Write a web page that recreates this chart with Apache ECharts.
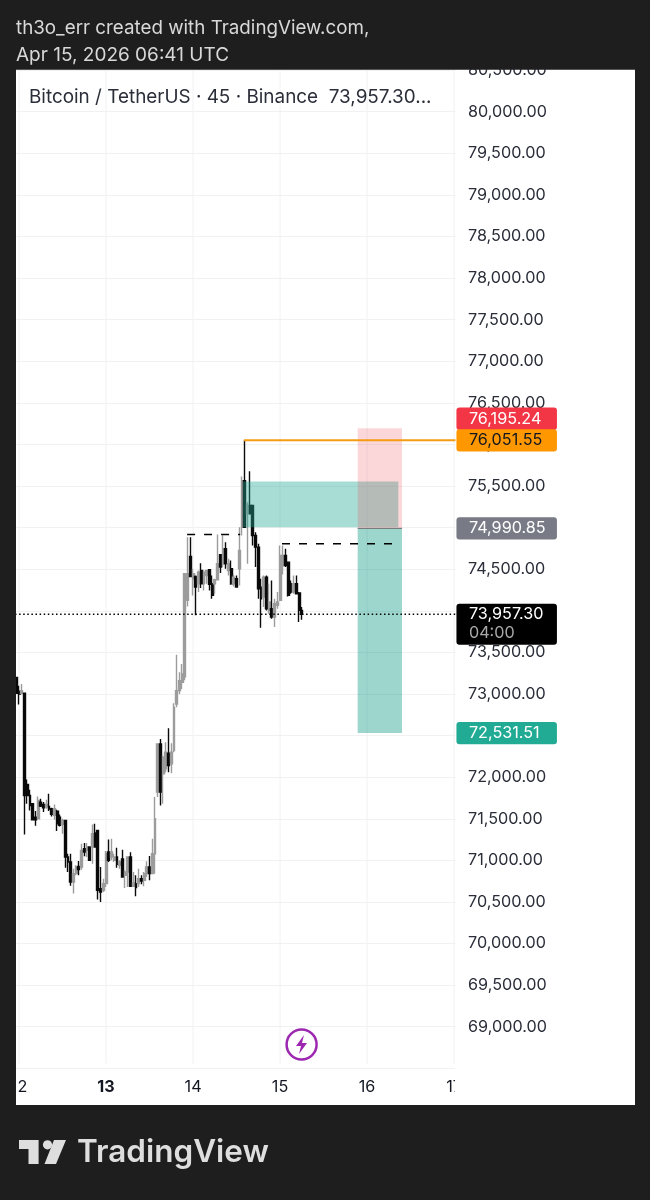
<!DOCTYPE html>
<html><head><meta charset="utf-8">
<style>html,body{margin:0;padding:0;background:#1e1e1e}#c{width:650px;height:1200px}</style>
<script src="https://cdn.jsdelivr.net/npm/echarts@6/dist/echarts.min.js"></script>
</head><body><div id="c"></div>
<script>
const opens=[73200,73032,73008,73008,71912,71780,71680,71520,71500,71700,71672,71640,71648,71620,71540,71592,71520,71432,71480,71040,70980,70740,70840,70928,70920,71140,71120,71160,71160,71328,71360,70660,70640,70720,71100,71040,71000,71040,70940,71016,70820,70860,71040,70688,70720,70720,70780,70760,70840,70920,70840,71080,71820,72400,72040,72100,72288,72160,72320,72880,73040,73140,73205,74125,74653,74385,74413,74325,74485,74325,74425,74493,74325,74325,74373,74673,74565,74745,74485,74505,74325,74385,74505,75005,75565,75165,75265,75265,74905,74765,74285,74165,74405,74005,74025,73925,74065,74125,74545,74665,74585,74325,74225,74325,74213,74005];
const closes=[73008,73000,73040,71780,71780,71660,71488,71488,71720,71652,71632,71672,71616,71552,71620,71440,71420,71480,71040,70980,70740,70840,70920,70888,71120,71100,71160,71000,71320,71160,70640,70620,70720,71080,71000,71100,71040,70952,70980,70800,70860,71040,70688,70728,70672,70780,70752,70840,70920,70840,71080,71500,72400,71820,72240,72300,72140,72300,72840,73040,73160,73240,74445,74445,74413,74445,74285,74465,74325,74465,74485,74317,74185,74373,74565,74525,74745,74565,74565,74325,74405,74285,74725,75565,75005,75265,75165,74905,74765,74265,74145,74405,74025,74105,73925,74085,74105,74665,74665,74545,74185,74225,74325,74205,74005,73957.3];
const lows=[73000,72872,73000,71312,71680,71600,71480,71416,71488,71640,71580,71620,71592,71528,71488,71352,71408,71320,70912,70860,70696,70600,70820,70820,70888,71048,71040,70992,70960,71160,70528,70500,70620,70680,70980,71000,70980,70912,70900,70792,70668,70680,70680,70680,70568,70680,70712,70688,70800,70760,70832,70840,71760,71660,71680,72060,72060,72048,72300,72840,73000,73060,73165,74053,74405,74185,73945,74225,74273,74245,74325,74245,74145,74205,74365,74453,74525,74505,74425,74313,74293,74277,74305,74905,75005,74565,75165,74785,74525,74145,73797,74045,74005,73965,73905,73805,74025,74125,74437,74525,74173,74205,74205,74205,73865,73893];
const highs=[73200,73100,73120,73008,71972,71848,71688,71592,71768,71740,71700,71728,71800,71632,71672,71608,71552,71500,71480,71080,71080,70900,70940,70992,71200,71208,71208,71160,71432,71440,71360,70920,70780,71112,71252,71260,71080,71152,71000,71128,70880,71040,71096,70860,70820,70900,70820,70860,70988,71052,71260,71760,72400,72460,72260,72420,72588,72408,72888,73472,73260,73360,74445,74885,74885,74505,74425,74485,74573,74485,74493,74493,74425,74385,74917,74673,74905,74825,74625,74605,74437,74425,75005,75613,76051.55,75305,75677,75265,74945,74805,74385,74425,74425,74325,74365,74145,74225,74785,74785,74745,74585,74365,74425,74425,74225,74045];
const dayNames=[12,13,14,15,16,17];
const barsPerDay=32, firstDayBar=1, barCount=162;
const boldDay=13;
const lastPrice=73957.30, stopPrice=76195.24, highLine=76051.55, entryPrice=74990.85, targetPrice=72531.51;
const zoneHigh=75555, zoneLow=75003;
const dashA=74917, dashB=74805;
const priceMin=68500, priceMax=80500, priceStep=500, gridFloor=68555;
const countdown='04:00';

const fmtPrice=v=>v.toLocaleString('en-US',{minimumFractionDigits:2,maximumFractionDigits:2});
const categories=[];
for(let i=0;i<barCount;i++){
  const d=Math.floor((i-firstDayBar)/barsPerDay), m=((i-firstDayBar)%barsPerDay+barsPerDay)%barsPerDay*45;
  categories.push((12+d)+' '+String(Math.floor(m/60)).padStart(2,'0')+':'+String(m%60).padStart(2,'0'));
}
const candleData=opens.map((o,i)=>[o,closes[i],lows[i],highs[i]]);

const F='Inter, "Noto Sans", sans-serif';
const AX=16.2;
function hLine(x0,x1,y,color,width,type,z){
  return {type:'line',xAxisIndex:1,yAxisIndex:0,data:[[x0,y],[x1,y]],symbol:'none',silent:true,z:z,
    lineStyle:{color:color,width:width,type:type},animation:false};
}
function vLine(x,y0,y1){
  return {type:'line',xAxisIndex:1,yAxisIndex:0,data:[[x,y0],[x,y1]],symbol:'none',silent:true,z:1,
    lineStyle:{color:'#f0f1f3',width:1},animation:false};
}
function rect(x0,x1,top,bot,color,z){
  return {type:'custom',xAxisIndex:1,yAxisIndex:0,data:[[x0,top,x1,bot]],z:z,silent:true,animation:false,
    encode:{x:[0,2],y:[1,3]},
    renderItem:(p,api)=>{
      const a=api.coord([api.value(0),api.value(1)]), b=api.coord([api.value(2),api.value(3)]);
      return {type:'rect',shape:{x:a[0],y:a[1],width:b[0]-a[0],height:b[1]-a[1]},style:{fill:color}};
    }};
}
function tag(price,bg,fg,nudge,second){
  return {type:'custom',xAxisIndex:1,yAxisIndex:0,data:[[barCount,price]],z:10,silent:true,animation:false,clip:false,
    encode:{x:0,y:1},
    renderItem:(p,api)=>{
      const c=api.coord([api.value(0),api.value(1)]), x=c[0]+1, y=c[1]+nudge;
      const kids=[];
      const font=AX+'px '+F;
      if(second){
        kids.push({type:'rect',shape:{x:x,y:y-10.6,width:100.5,height:41,r:3},style:{fill:bg}});
        kids.push({type:'text',style:{x:x+12.5,y:y,text:fmtPrice(price),fill:fg,font:font,verticalAlign:'middle'}});
        kids.push({type:'text',style:{x:x+12.5,y:y+19,text:second,fill:'#a8a8a8',font:font,verticalAlign:'middle'}});
      }else{
        kids.push({type:'rect',shape:{x:x,y:y-11.2,width:100.5,height:22.4,r:3},style:{fill:bg}});
        kids.push({type:'text',style:{x:x+12.5,y:y,text:fmtPrice(price),fill:fg,font:font,verticalAlign:'middle'}});
      }
      return {type:'group',children:kids};
    }};
}
function pageText(x,y,text,fill,font){
  return {type:'text',z:51,silent:true,style:{x:x,y:y,text:text,fill:fill,font:font,verticalAlign:'middle'}};
}

const dayBars=dayNames.map((d,i)=>firstDayBar+i*barsPerDay+0.5);
const chart=echarts.init(document.getElementById('c'),null,{renderer:'canvas',width:650,height:1200});
chart.setOption({
  animation:false,backgroundColor:'#1e1e1e',
  grid:{left:15,top:70.1,width:440.44,height:998.2,containLabel:false},
  xAxis:[{type:'category',data:categories,boundaryGap:true,axisLine:{show:false},axisTick:{show:false},splitLine:{show:false},
    axisLabel:{interval:i=>(i-firstDayBar)%barsPerDay===0,margin:11,
      formatter:v=>{const d=+v.split(' ')[0];return d===boldDay?'{b|'+d+'}':'{n|'+d+'}';},
      rich:{b:{fontFamily:F,fontSize:AX,fontWeight:700,color:'#131722'},n:{fontFamily:F,fontSize:AX,color:'#131722'}}}},
    {type:'value',min:0,max:barCount,show:false,splitLine:{show:false}}],
  yAxis:{type:'value',position:'right',min:priceMin,max:priceMax,interval:priceStep,
    axisLine:{show:false},axisTick:{show:false},
    splitLine:{show:true,lineStyle:{color:'#f0f1f3',width:1}},
    axisLabel:{margin:12.6,fontFamily:F,fontSize:AX,color:'#2a2e39',
      formatter:v=>v<69000?'':fmtPrice(v)}},
  series:[
    ...dayBars.map(x=>vLine(x,gridFloor,priceMax)),
    {type:'candlestick',data:candleData,barWidth:2.4,z:2,silent:true,animation:false,
      itemStyle:{color:'#9c9c9c',color0:'#0a0a0a',borderColor:'#9c9c9c',borderColor0:'#0a0a0a',borderWidth:1.4}},
    rect(83.86,141,zoneHigh,zoneLow,'rgba(34,171,148,0.4)',3),
    rect(126.05,142.35,stopPrice,entryPrice,'rgba(242,54,69,0.2)',3),
    rect(126.05,142.35,entryPrice,targetPrice,'rgba(8,153,129,0.4)',3),
    hLine(126.05,142.35,entryPrice,'#6f6f6f',1,'solid',4),
    hLine(84.2,barCount,highLine,'#f59c12',2,'solid',5),
    hLine(63.3,82.8,dashA,'#000',1.5,[8,9],5),
    hLine(98.2,139.8,dashB,'#000',1.5,[8,9],5),
    hLine(0,barCount,lastPrice,'#000',1.5,[1.5,2.6],5),
    tag(stopPrice,'#f23645','#fff',-9.5),
    tag(highLine,'#ff9800','#131722',0.2),
    tag(entryPrice,'#787b86','#fff',0),
    tag(targetPrice,'#22ab94','#fff',0.2),
    tag(lastPrice,'#000','#fff',0,countdown)
  ],
  graphic:{elements:[
    {type:'rect',z:-1,silent:true,shape:{x:16,y:69.5,width:619,height:1035.5},style:{fill:'#fff'}},
    {type:'rect',z:50,silent:true,shape:{x:0,y:0,width:650,height:69.5},style:{fill:'#1e1e1e'}},
    {type:'rect',z:50,silent:true,shape:{x:0,y:0,width:16,height:1200},style:{fill:'#1e1e1e'}},
    {type:'rect',z:50,silent:true,shape:{x:455,y:1066,width:179,height:39},style:{fill:'#fff'}},
    pageText(16,28,'th3o_err created with TradingView.com,','#d8d8d8','18.8px '+F),
    pageText(16,55,'Apr 15, 2026 06:41 UTC','#d8d8d8','19px '+F),
    pageText(29,97,'Bitcoin / TetherUS · 45 · Binance  73,957.30...','#2a2e39','18.9px '+F),
    {type:'circle',z:51,silent:true,shape:{cx:301.6,cy:1044.5,r:15},style:{fill:'#fff',stroke:'#9c27b0',lineWidth:2.5}},
    {type:'polygon',z:52,silent:true,shape:{points:[[304,1035],[296,1046],[301,1046],[299,1054],[307,1043],[302,1043]]},style:{fill:'#9c27b0'}},
    {type:'polygon',z:51,silent:true,shape:{points:[[19,1140],[38.6,1140],[38.6,1164],[28.5,1164],[28.5,1149],[19,1149]]},style:{fill:'#dedede'}},
    {type:'circle',z:51,silent:true,shape:{cx:47.5,cy:1144.8,r:4.6},style:{fill:'#dedede'}},
    {type:'polygon',z:51,silent:true,shape:{points:[[54,1140],[66,1140],[56,1164],[44.5,1164]]},style:{fill:'#dedede'}},
    pageText(77,1153,'TradingView','#dedede','600 31.5px '+F)
  ]}
});
</script></body></html>
